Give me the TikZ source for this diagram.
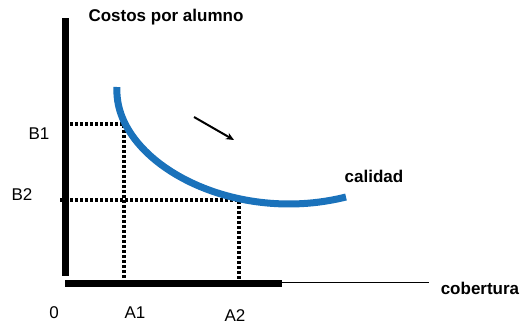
\documentclass[tikz,border=0pt]{standalone}
\usepackage{fontspec}
\setmainfont{Liberation Sans}
\usetikzlibrary{arrows.meta}
\definecolor{curveblue}{HTML}{1A72BB}
\begin{document}
\begin{tikzpicture}[x=1pt,y=-1pt,
  lbl/.style={font=\fontsize{17}{20}\selectfont, inner sep=0pt},
  blbl/.style={lbl, font=\fontsize{17}{20}\selectfont\bfseries},
  axisthick/.style={line width=7pt},
  guide/.style={line width=3.5pt, dash pattern=on 3pt off 2pt}]
\useasboundingbox (0,0) rectangle (523,324);
% axes
\coordinate (ytop) at (65,18);
\coordinate (ybot) at (65,276);
\coordinate (xl) at (65,283.5);
\coordinate (xm) at (282,283.5);
\coordinate (xm2) at (282,282.5);
\coordinate (xr) at (429,282.5);
\draw[axisthick] (ytop) -- (ybot);
\draw[axisthick] (xl) -- (xm);
\draw[line width=1.8pt] (xm2) -- (xr);
% guides
\coordinate (b1) at (70,124);
\coordinate (p1) at (124,124);
\coordinate (a1) at (124,279);
\coordinate (b2) at (60,200);
\coordinate (p2) at (239,200);
\coordinate (a2) at (239,279);
\draw[guide] (b1) -- (p1) -- (a1);
\draw[guide] (b2) -- (p2) -- (a2);
% curve
\coordinate (cs) at (117,87);
\coordinate (ce) at (346,197);
\draw[curveblue, line width=7pt] (cs) .. controls (113,160) and (230,226) .. (ce);
% arrow
\coordinate (ars) at (194,117);
\coordinate (are) at (234,140);
\draw[line width=2pt, -{Stealth[length=8pt,width=7pt]}] (ars) -- (are);
% labels
\node[blbl] (ty) at (166,17) {Costos por alumno};
\node[blbl] (tx) at (480,288) {cobertura};
\node[blbl] (tc) at (374,176) {calidad};
\node[lbl] (lb1) at (39,134) {B1};
\node[lbl] (lb2) at (22,195) {B2};
\node[lbl] (l0) at (54,313) {0};
\node[lbl] (la1) at (135,313) {A1};
\node[lbl] (la2) at (235,315.5) {A2};
\end{tikzpicture}
\end{document}
